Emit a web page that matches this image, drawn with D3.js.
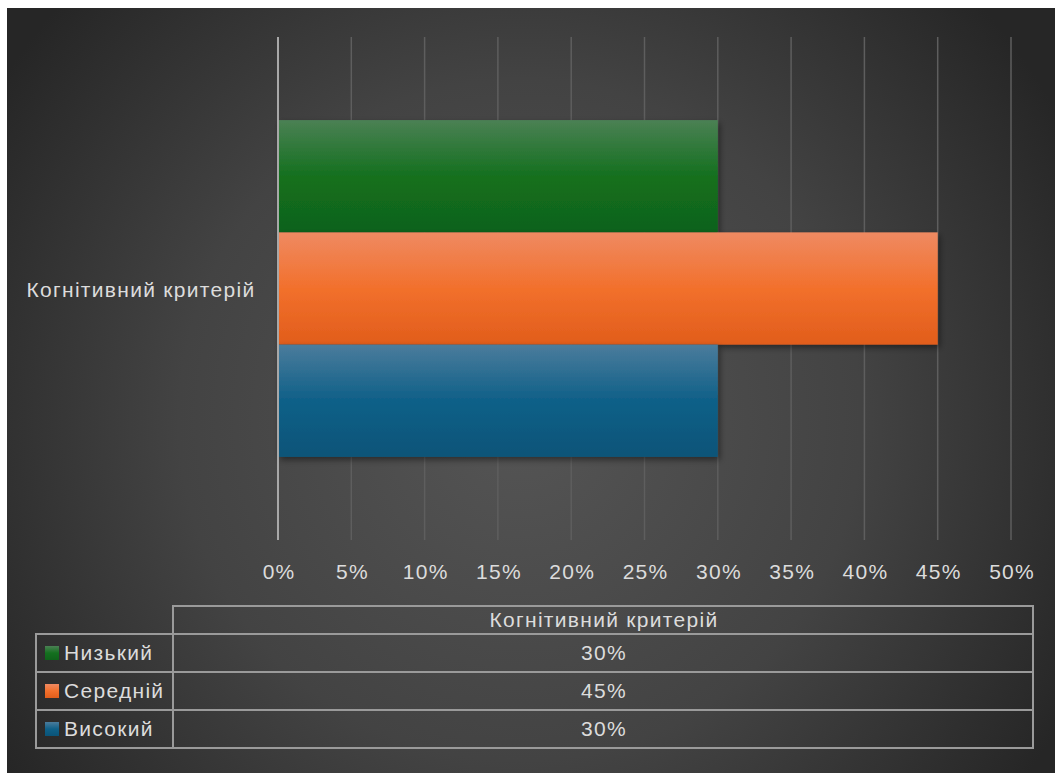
<!DOCTYPE html>
<html><head><meta charset="utf-8">
<script src="https://cdn.jsdelivr.net/npm/d3@7"></script>
<style>html,body{margin:0;padding:0;background:#fff;}svg{display:block;}</style>
</head><body>
<script>
const categories = ["Когнітивний критерій"];
const seriesNames = ["Низький", "Середній", "Високий"];
const seriesValues = [30, 45, 30];
const tickValues = [0, 5, 10, 15, 20, 25, 30, 35, 40, 45, 50];
const seriesColors = [
  ["#4b8154", "#14701f", "#0f621a"],
  ["#ef8a62", "#f2702c", "#e15d1b"],
  ["#4b7c9c", "#0f6088", "#0a5478"]
];

const W = 1055, H = 773;
const svg = d3.select("body").append("svg").attr("width", W).attr("height", H);
const defs = svg.append("defs");

const bg = defs.append("radialGradient").attr("id", "bg")
  .attr("gradientUnits", "userSpaceOnUse").attr("cx", 520).attr("cy", 420).attr("r", 620);
bg.append("stop").attr("offset", "0").attr("stop-color", "#555555");
bg.append("stop").attr("offset", "0.55").attr("stop-color", "#434343");
bg.append("stop").attr("offset", "1").attr("stop-color", "#262626");

seriesColors.forEach((c, i) => {
  const g = defs.append("linearGradient").attr("id", "g" + i).attr("x1", 0).attr("y1", 0).attr("x2", 0).attr("y2", 1);
  g.append("stop").attr("offset", "0").attr("stop-color", c[0]);
  g.append("stop").attr("offset", "0.5").attr("stop-color", c[1]);
  g.append("stop").attr("offset", "1").attr("stop-color", c[2]);
});
const sh = defs.append("filter").attr("id", "shadow").attr("x", "-5%").attr("y", "-10%").attr("width", "115%").attr("height", "130%");
sh.append("feDropShadow").attr("dx", 2).attr("dy", 3).attr("stdDeviation", 3).attr("flood-color", "#000").attr("flood-opacity", 0.45);

svg.append("rect").attr("x", 7).attr("y", 8).attr("width", W - 7).attr("height", H - 8).attr("fill", "url(#bg)");

const font = "'Liberation Sans', Arial, sans-serif";
const fs = "21px", ls = "1.3px", txtColor = "#dcdcdc";

const x = d3.scaleLinear().domain([0, 50]).range([278, 1011]);
const yTop = 37, yBot = 540;
const y0 = d3.scaleBand().domain(categories).range([yTop, yBot]).paddingInner(0).paddingOuter(0);
const y1 = d3.scaleBand().domain(seriesNames).range([0, y0.bandwidth()]).paddingOuter(0.74).paddingInner(0);

// gridlines
svg.append("g").selectAll("line").data(tickValues.slice(1)).join("line")
  .attr("x1", d => x(d)).attr("x2", d => x(d)).attr("y1", yTop).attr("y2", yBot)
  .attr("stroke", "#5e5e5e").attr("stroke-width", 1.5);

// bars
const gBars = svg.append("g");
categories.forEach(cat => {
  seriesNames.forEach((s, i) => {
    gBars.append("rect")
      .attr("x", x(0)).attr("y", y0(cat) + y1(s))
      .attr("width", x(seriesValues[i]) - x(0)).attr("height", y1.bandwidth())
      .attr("fill", `url(#g${i})`).attr("filter", "url(#shadow)");
  });
});

// axis line
svg.append("line").attr("x1", x(0)).attr("x2", x(0)).attr("y1", yTop).attr("y2", yBot)
  .attr("stroke", "#a8a8a8").attr("stroke-width", 2);

// tick labels
const xAxis = d3.axisBottom(x).tickValues(tickValues).tickFormat(d => d + "%").tickSize(0).tickPadding(0);
const ax = svg.append("g").attr("transform", `translate(0,${yBot})`).call(xAxis);
ax.select(".domain").remove();
ax.selectAll("text").attr("y", 39).attr("dy", "0").attr("dx", "0.6px").attr("fill", txtColor)
  .style("font-family", font).style("font-size", fs).style("letter-spacing", ls);

// category label
svg.selectAll(".cat").data(categories).join("text")
  .attr("x", 141).attr("y", y0("Когнітивний критерій") + y0.bandwidth() / 2 + 8)
  .attr("text-anchor", "middle").attr("fill", txtColor)
  .style("font-family", font).style("font-size", fs).style("letter-spacing", ls)
  .text(d => d);

// data table
const tLeft = 36, tMid = 173, tRight = 1033;
const headTop = 606, headBot = 634, rowH = 38;
const tg = svg.append("g");
const stroke = "#9a9a9a";
tg.append("rect").attr("x", tMid).attr("y", headTop).attr("width", tRight - tMid).attr("height", headBot - headTop)
  .attr("fill", "none").attr("stroke", stroke).attr("stroke-width", 2);
tg.append("text").attr("x", (tMid + tRight) / 2 + 1).attr("y", headTop + 21).attr("text-anchor", "middle")
  .attr("fill", txtColor).style("font-family", font).style("font-size", fs).style("letter-spacing", ls).text(categories[0]);
seriesNames.forEach((s, i) => {
  const yy = headBot + i * rowH;
  tg.append("rect").attr("x", tLeft).attr("y", yy).attr("width", tRight - tLeft).attr("height", rowH)
    .attr("fill", "none").attr("stroke", stroke).attr("stroke-width", 2);
  tg.append("line").attr("x1", tMid).attr("x2", tMid).attr("y1", yy).attr("y2", yy + rowH)
    .attr("stroke", stroke).attr("stroke-width", 2);
  tg.append("rect").attr("x", 45).attr("y", yy + 12).attr("width", 14).attr("height", 14)
    .attr("fill", `url(#g${i})`);
  tg.append("text").attr("x", 64).attr("y", yy + 26).attr("fill", txtColor)
    .style("font-family", font).style("font-size", fs).style("letter-spacing", ls).text(s);
  tg.append("text").attr("x", (tMid + tRight) / 2 + 1).attr("y", yy + 26).attr("text-anchor", "middle")
    .attr("fill", txtColor).style("font-family", font).style("font-size", fs).style("letter-spacing", ls).text(seriesValues[i] + "%");
});
</script>
</body></html>
